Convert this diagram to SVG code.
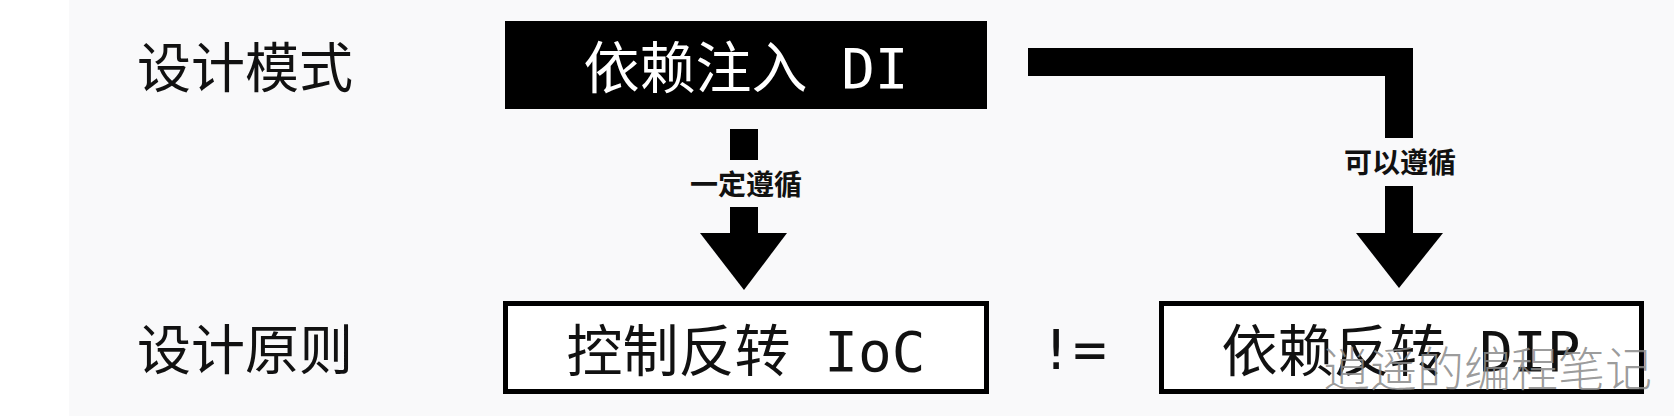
<svg xmlns="http://www.w3.org/2000/svg" width="1674" height="416" viewBox="0 0 1674 416">
  <style>
    .lbl { font-family: "Noto Sans CJK SC", "Noto Sans", sans-serif; font-size: 54px; fill: #111; }
    .box { font-family: "DejaVu Sans Mono", "Noto Sans CJK SC", monospace; font-size: 56px; text-anchor: middle; }
    .edge { font-family: "Noto Sans CJK SC", "Noto Sans", sans-serif; font-size: 28px; font-weight: bold; fill: #111; text-anchor: middle; }
    .conn { fill: #000; }
  </style>
  <rect x="0" y="0" width="1674" height="416" fill="#f9f9fa"/>
  <rect x="0" y="0" width="69" height="416" fill="#ffffff"/>

  <g id="label-pattern">
    <text class="lbl" x="137" y="88">设计模式</text>
  </g>
  <g id="label-principle">
    <text class="lbl" x="137" y="370">设计原则</text>
  </g>

  <g id="node-di">
    <rect x="505" y="21" width="482" height="88" fill="#000"/>
    <text class="box" x="746" y="88" fill="#fff">依赖注入 DI</text>
  </g>

  <g id="node-ioc">
    <rect x="505.5" y="303.5" width="481" height="88" fill="#fff" stroke="#000" stroke-width="5"/>
    <text class="box" x="746" y="371" fill="#111">控制反转 IoC</text>
  </g>

  <g id="node-dip">
    <rect x="1161.5" y="303.5" width="480" height="88" fill="#fff" stroke="#000" stroke-width="5"/>
    <text class="box" x="1401" y="371" fill="#111">依赖反转 DIP</text>
  </g>

  <g id="neq">
    <text class="box" x="1073" y="369" fill="#111">!=</text>
  </g>

  <g id="connectors">
    <g id="edge-di-ioc">
      <rect class="conn" x="730" y="129" width="28" height="31"/>
      <text class="edge" x="746" y="195">一定遵循</text>
      <rect class="conn" x="730" y="207" width="28" height="27"/>
      <polygon class="conn" points="700,233 787,233 744,290"/>
    </g>
    <g id="edge-di-dip">
      <polygon class="conn" points="1028,48 1413,48 1413,138 1385,138 1385,76 1028,76"/>
      <text class="edge" x="1400" y="173">可以遵循</text>
      <rect class="conn" x="1385" y="186" width="28" height="48"/>
      <polygon class="conn" points="1356,233 1443,233 1399,288"/>
    </g>
  </g>

  <g id="watermark">
    <text x="1323" y="386" font-family="Noto Sans CJK SC, sans-serif" font-size="47" font-weight="300" fill="#8a8a8a" fill-opacity="0.85">逍遥的编程笔记</text>
  </g>
</svg>
